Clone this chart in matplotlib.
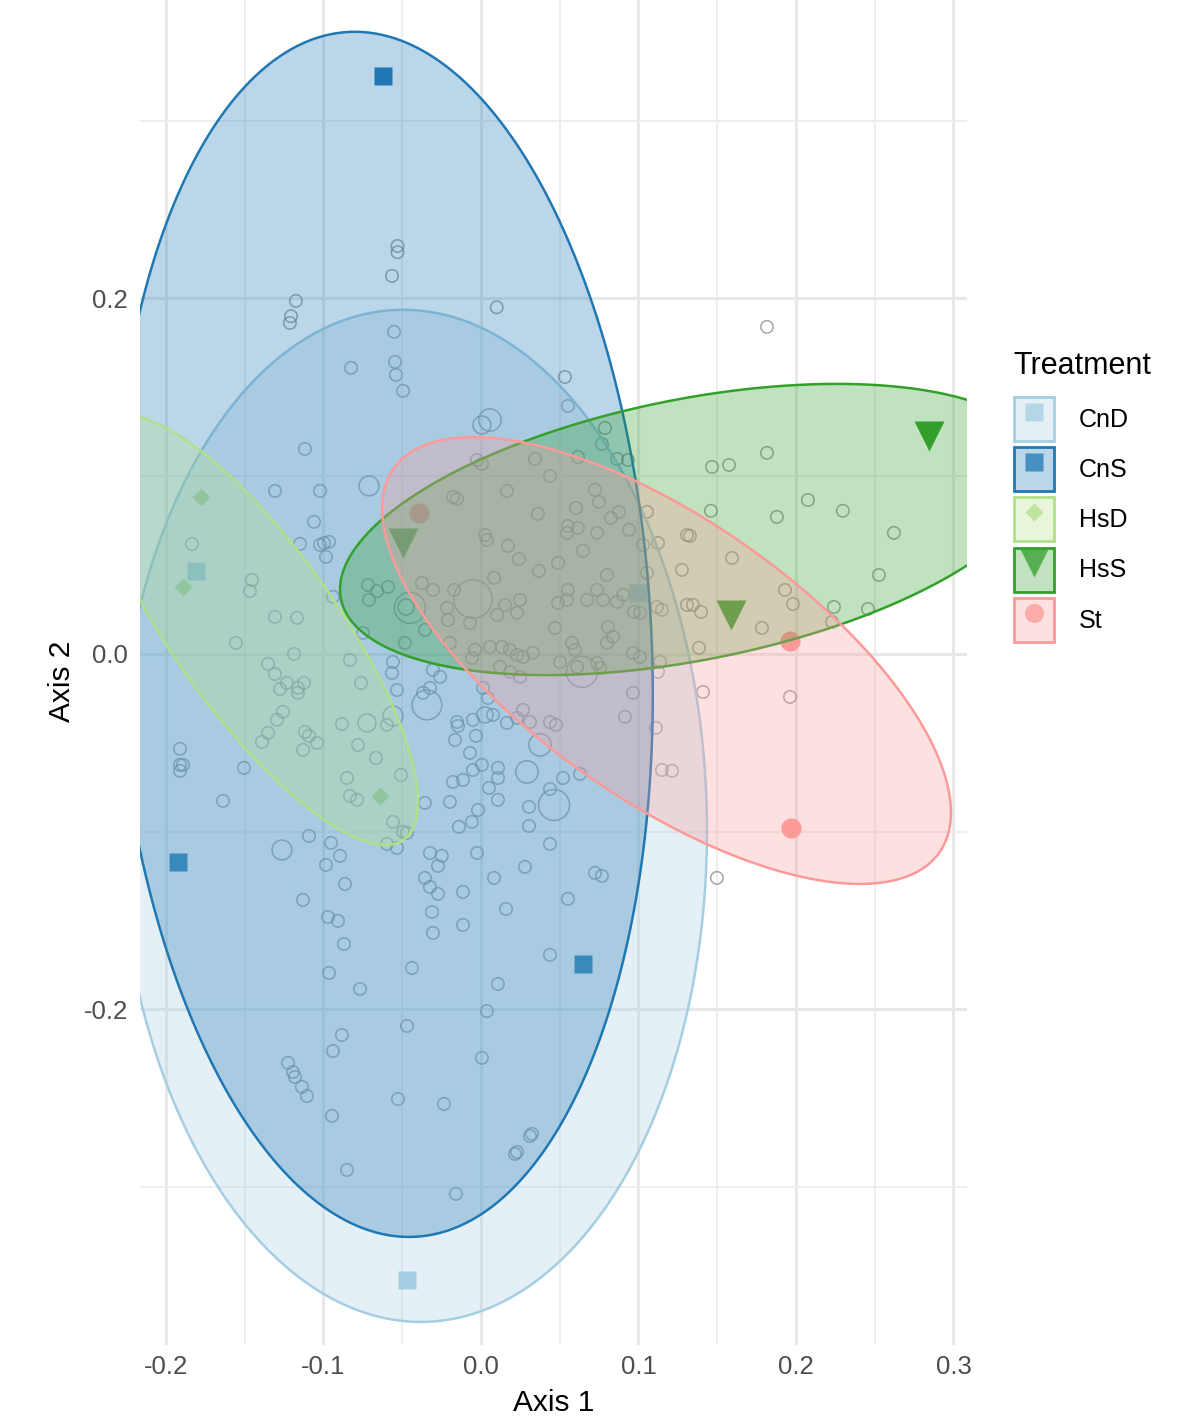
import numpy as np
import matplotlib
matplotlib.use("Agg")
import matplotlib.pyplot as plt
from matplotlib.patches import Patch
from matplotlib.lines import Line2D
from matplotlib.legend_handler import HandlerTuple

plt.rcParams['font.family'] = ['Liberation Sans', 'DejaVu Sans']

# ---------------- data ----------------
groups = ["CnD", "CnS", "HsD", "HsS", "St"]
colors = ["#a6cee3", "#1f78b4", "#b2df8a", "#33a02c", "#fb9a99"]
markers = ["s", "s", "D", "v", "o"]

# sample scores (Axis 1, Axis 2)
samp_x = {
    "CnD": [-0.181, -0.047, 0.0997],
    "CnS": [-0.0622, -0.1924, 0.0648],
    "HsD": [-0.1778, -0.1892, -0.0641],
    "HsS": [0.2845, -0.0495, 0.1587],
    "St":  [-0.0394, 0.1962, 0.1968],
}
samp_y = {
    "CnD": [0.0467, -0.3522, 0.0343],
    "CnS": [0.3252, -0.117, -0.1744],
    "HsD": [0.0883, 0.0377, -0.0799],
    "HsS": [0.1226, 0.0624, 0.0219],
    "St":  [0.0793, 0.0073, -0.0979],
}

# ellipse statistics per group: centre, half-extent in x / y, correlation
ell_cx = [-0.0438, -0.0629, -0.1435, 0.1340, 0.1178]
ell_cy = [-0.0911, 0.0110, 0.0135, 0.0700, -0.0037]
ell_sx = [0.1873, 0.1720, 0.1035, 0.2235, 0.1806]
ell_sy = [0.2847, 0.3390, 0.1210, 0.0819, 0.1257]
ell_r = [-0.03, -0.10, -0.80, 0.412, -0.68]

# taxa scores
taxa_x = [
    0.010, -0.053, -0.053, -0.0565, -0.1175, -0.1206, -0.1213, -0.0552, -0.0825, -0.0546,
    -0.054, -0.0495, -0.1118, -0.1308, -0.1022, -0.0711, 0.1816, 0.0533, 0.0552, 0.0006,
    0.0057, 0.0787, 0.0768, 0.0864, 0.0933, 0.0616, 0.0343, 0.0438, -0.0025, 0.0006,
    0.0165, -0.0178, -0.0152, 0.0362, 0.0603, 0.0724, 0.0749, 0.0825, 0.0876, 0.0552,
    0.0616, 0.0546, 0.0737, 0.094, 0.0025, 0.0038, 0.0171, 0.0648, 0.0241, 0.0489,
    0.0368, 0.08, 0.0083, -0.0051, -0.0171, -0.0305, -0.0375, 0.0552, 0.0546, 0.0489,
    0.0673, 0.0737, 0.0775, 0.0902, 0.0864, 0.0248, 0.0229, 0.0152, 0.0102, -0.007,
    -0.0216, -0.021, -0.0356, 0.0806, 0.0838, 0.0971, 0.101, 0.1118, 0.1149, 0.1054,
    0.1124, 0.1054, 0.1276, 0.1308, 0.1308, 0.047, 0.0578, 0.0597, 0.08, 0.0057,
    0.0133, 0.0184, 0.0229, 0.0267, 0.033, 0.0641, 0.061, 0.0737, 0.0756, 0.0502,
    -0.0038, -0.0057, -0.0197, 0.0121, 0.0184, 0.0248, 0.0013, -0.026, -0.0305, -0.0368,
    -0.0324, 0.0965, 0.0965, 0.101, 0.1124, 0.1137, 0.1029,
    -0.106, -0.1149, -0.1022, -0.0997, -0.0965, -0.0984, -0.1835, -0.1454, -0.1467, -0.094,
    -0.0717, -0.066, -0.059, -0.0711, -0.0451, -0.0476, -0.1308, -0.1168, -0.1556, -0.1187,
    -0.1352, -0.1308, -0.1232, -0.1124, -0.1162, -0.1162, -0.1276, -0.0832, -0.0762, -0.0559,
    -0.0565, -0.0533, -0.0483, -0.0749,
    -0.1911, -0.1911, -0.1892, -0.1911, -0.1505, -0.1638, -0.139, -0.1352, -0.1295, -0.1257,
    -0.1118, -0.1092, -0.1041, -0.113, -0.0883, -0.0781, -0.0724, -0.0597, -0.0559, -0.0667,
    -0.0851, -0.0832, -0.0787, -0.0508, -0.0559, -0.0495, -0.047, -0.0597, -0.0533, -0.1092,
    -0.1264, -0.0952, -0.0895, -0.0984, -0.0864, -0.113, -0.0971, -0.0908, -0.087, -0.0965,
    -0.0768, -0.0438, -0.047,
    -0.0343, 0.0044, -0.0152, -0.0146, -0.0051, 0.0025, 0.0076, 0.0165, 0.0229, 0.0267,
    0.0311, 0.0438, 0.0476, -0.0165, -0.0032, 0.0375, -0.007, -0.0051, 0.0006, 0.0108,
    0.0108, 0.0051, -0.0178, -0.0114, 0.0108, 0.0292, 0.0521, 0.0629, 0.0438, 0.0464,
    -0.0197, -0.0356, -0.0019, -0.0057, -0.014, 0.0305, 0.0305, 0.0438, -0.0025, -0.0324,
    -0.0248, -0.0273, 0.0279, -0.0356, -0.0324, -0.0273, -0.0114, 0.0083, 0.0724, 0.0768,
    0.0552, -0.0311, 0.0159, -0.0114, -0.0305, 0.0438, 0.0108, 0.0038, 0.1111, 0.0914,
    0.1149, 0.1213,
    0.1816, 0.1467, 0.1575, 0.146, 0.2076, 0.2298, 0.1879, 0.2622, 0.1327, 0.1594,
    0.2527, 0.193, 0.1981, 0.2241, 0.2457, 0.2229,
    0.1346, 0.1397, 0.1784, 0.1384, 0.141, 0.1962, 0.1498,
    -0.0883, -0.094, -0.1225, -0.1194, -0.1181, -0.1137, -0.1105, -0.0527, -0.0946, -0.0851,
    0.0006, -0.0235, 0.0311, 0.0324, 0.0216, 0.0229, -0.0159,
]
taxa_y = [
    0.195, 0.2295, 0.226, 0.2127, 0.1986, 0.190, 0.1862, 0.1812, 0.1609, 0.1643,
    0.157, 0.148, 0.1153, 0.0917, 0.0917, 0.0945, 0.184, 0.1558, 0.1395, 0.1288,
    0.1316, 0.1271, 0.1181, 0.1097, 0.1091, 0.1108, 0.1097, 0.1001, 0.1091, 0.1069,
    0.0917, 0.0883, 0.0872, 0.0788, 0.0821, 0.0923, 0.0855, 0.0765, 0.0799, 0.072,
    0.0709, 0.0681, 0.0681, 0.0698, 0.0669, 0.0641, 0.0608, 0.058, 0.0534, 0.0512,
    0.0467, 0.0444, 0.0428, 0.0309, 0.036, 0.036, 0.0399, 0.036, 0.0304, 0.0287,
    0.0304, 0.036, 0.0304, 0.0332, 0.0293, 0.0304, 0.0231, 0.0276, 0.0219, 0.0174,
    0.0259, 0.0191, 0.0135, 0.0152, 0.0096, 0.0236, 0.0231, 0.0264, 0.0248, 0.0456,
    0.0624, 0.0799, 0.0473, 0.0669, 0.0276, 0.0146, 0.0062, 0.0023, 0.0062, 0.0039,
    0.0039, 0.0023, -0.0006, -0.0017, 0.0006, -0.0101, -0.0073, -0.0051, -0.0079, -0.0045,
    0.0023, -0.0023, 0.0062, -0.0073, -0.0101, -0.0129, -0.0191, -0.0129, -0.009, -0.0219,
    -0.0191, -0.0219, 0.0006, -0.0017, -0.0101, -0.0045, 0.0613,
    0.0743, 0.0619, 0.0613, 0.0624, 0.063, 0.0546, 0.0619, 0.0416, 0.0354, 0.0321,
    0.0388, 0.0354, 0.0377, 0.0304, 0.0259, 0.0264, 0.0208, 0.0203, 0.0062, 0.0,
    -0.0056, -0.0113, -0.0163, -0.0163, -0.0191, -0.0219, -0.0197, -0.0034, -0.0163, -0.0045,
    -0.0107, -0.0203, 0.0062, 0.0118,
    -0.0534, -0.0624, -0.0624, -0.0658, -0.0641, -0.0827, -0.0495, -0.0444, -0.0371, -0.0326,
    -0.0439, -0.0461, -0.0501, -0.054, -0.0394, -0.0512, -0.0388, -0.0399, -0.0349, -0.0585,
    -0.0698, -0.0799, -0.0821, -0.0681, -0.0945, -0.1001, -0.1007, -0.1069, -0.1091, -0.1024,
    -0.1103, -0.1063, -0.1136, -0.1187, -0.1294, -0.1384, -0.148, -0.1502, -0.1632, -0.1795,
    -0.1885, -0.1767, -0.2093,
    -0.0287, -0.0248, -0.0383, -0.0405, -0.0371, -0.0343, -0.0343, -0.0388, -0.036, -0.0315,
    -0.0383, -0.0383, -0.0399, -0.0484, -0.0461, -0.0512, -0.0557, -0.0653, -0.0624, -0.0641,
    -0.0698, -0.0754, -0.072, -0.0709, -0.0821, -0.0664, -0.0698, -0.0675, -0.076, -0.085,
    -0.0833, -0.0838, -0.0878, -0.0945, -0.0973, -0.0861, -0.0968, -0.1069, -0.112, -0.112,
    -0.1136, -0.1193, -0.1198, -0.126, -0.1311, -0.135, -0.1339, -0.126, -0.1232, -0.1249,
    -0.1378, -0.1452, -0.1435, -0.1525, -0.157, -0.1693, -0.1857, -0.2009, -0.0416, -0.0354,
    -0.0653, -0.0658,
    0.1131, 0.1052, 0.1063, 0.0805, 0.0866, 0.0805, 0.0771, 0.0681, 0.0664, 0.054,
    0.0444, 0.036, 0.0281, 0.0264, 0.0253, 0.018,
    0.0276, 0.0236, 0.0146, 0.0034, -0.0214, -0.0242, -0.126,
    -0.2144, -0.2234, -0.2301, -0.2352, -0.238, -0.2436, -0.2487, -0.2504, -0.2599, -0.2903,
    -0.2273, -0.2532, -0.2712, -0.27, -0.2813, -0.2802, -0.3038,
]
taxa_size = [
    1, 1, 1, 1, 1, 1, 1, 1, 1, 1,
    1, 1, 1, 1, 1, 1.6, 1, 1, 1, 1.45,
    1.8, 1, 1, 1, 1, 1, 1, 1, 1, 1,
    1, 1, 1, 1, 1, 1, 1, 1, 1, 1,
    1, 1, 1, 1, 1, 1, 1, 1, 1, 1,
    1, 1, 1, 3.1, 1, 1, 1, 1, 1, 1,
    1, 1, 1, 1, 1, 1, 1, 1, 1, 1,
    1, 1, 1, 1, 1, 1, 1, 1, 1, 1,
    1, 1, 1, 1, 1, 1, 1, 1, 1, 1,
    1, 1, 1, 1, 1, 2.5, 1, 1, 1, 1,
    1, 1, 1, 1, 1, 1, 1, 1, 1, 1,
    1, 1, 1, 1, 1, 1, 1,
    1, 1, 1, 1, 1, 1, 1, 1, 1, 1,
    1, 1, 1, 1, 2.5, 1.3, 1, 1, 1, 1,
    1, 1, 1, 1, 1, 1, 1, 1, 1, 1,
    1, 1, 1, 1,
    1, 1, 1, 1, 1, 1, 1, 1, 1, 1,
    1, 1, 1, 1, 1, 1, 1.45, 1, 1.6, 1,
    1, 1, 1, 1, 1, 1, 1, 1, 1, 1,
    1.6, 1, 1, 1, 1, 1, 1, 1, 1, 1,
    1, 1, 1,
    2.4, 1, 1, 1, 1, 1.3, 1, 1, 1, 1,
    1, 1, 1, 1, 1, 1.8, 1, 1, 1, 1,
    1, 1, 1, 1, 1, 1.8, 1, 1, 1, 2.5,
    1, 1, 1, 1, 1, 1, 1, 1, 1, 1,
    1, 1, 1, 1, 1, 1, 1, 1, 1, 1,
    1, 1, 1, 1, 1, 1, 1, 1, 1, 1,
    1, 1,
    1, 1, 1, 1, 1, 1, 1, 1, 1, 1,
    1, 1, 1, 1, 1, 1,
    1, 1, 1, 1, 1, 1, 1,
    1, 1, 1, 1, 1, 1, 1, 1, 1, 1,
    1, 1, 1, 1, 1, 1, 1,
]
n = min(len(taxa_x), len(taxa_y), len(taxa_size))

x_major = [-0.2, -0.1, 0.0, 0.1, 0.2, 0.3]
x_minor = [-0.15, -0.05, 0.05, 0.15, 0.25]
y_major = [-0.2, 0.0, 0.2]
y_minor = [-0.3, -0.1, 0.1, 0.3]

# ---------------- figure ----------------
W, H = 1191, 1417
fig = plt.figure(figsize=(W / 100, H / 100), dpi=100)
ax = fig.add_axes([140 / W, 1 - 1345 / H, 827 / W, 1350 / H])
ax.set_xlim(-0.2165, 0.3086)
ax.set_ylim(-0.3888, 0.3707)
for s in ax.spines.values():
    s.set_visible(False)

ax.set_xticks(x_major)
ax.set_xticklabels(["%.1f" % v for v in x_major])
ax.set_yticks(y_major)
ax.set_yticklabels(["%.1f" % v for v in y_major])
ax.set_xticks(x_minor, minor=True)
ax.set_yticks(y_minor, minor=True)
ax.tick_params(which="both", length=0)
ax.tick_params(axis="x", labelsize=18.5, labelcolor="#4d4d4d", pad=7)
ax.tick_params(axis="y", labelsize=18.5, labelcolor="#4d4d4d", pad=8.5)
ax.grid(which="major", color="#e8e8e8", lw=2.2, zorder=0)
ax.grid(which="minor", color="#ededed", lw=1.3, zorder=0)
ax.set_axisbelow(True)

# taxa points
base = (2 * 6.2 * 0.72) ** 2
ax.scatter(taxa_x[:n], taxa_y[:n], s=[base * v * v for v in taxa_size[:n]],
           facecolors="none", edgecolors="#858585", linewidths=1.15,
           alpha=0.7, zorder=2)

# sample points
msizes = {"s": 13, "D": 9.5, "v": 21, "o": 14.5}
for g, c, m in zip(groups, colors, markers):
    ax.plot(samp_x[g], samp_y[g], ls="none", marker=m, ms=msizes[m],
            color=c, mec="none", zorder=3)

# ellipses
t = np.linspace(0, 2 * np.pi, 400)
for i, (g, c) in enumerate(zip(groups, colors)):
    r = ell_r[i]
    ex = ell_cx[i] + ell_sx[i] * np.cos(t)
    ey = ell_cy[i] + ell_sy[i] * (r * np.cos(t) + np.sqrt(1 - r * r) * np.sin(t))
    rgb = matplotlib.colors.to_rgb(c)
    ax.fill(ex, ey, facecolor=(*rgb, 0.3), edgecolor=c, lw=1.8, zorder=4 + i)

# axis titles
fig.text(553.5 / W, 1 - 1403 / H, "Axis 1", ha="center", va="center", fontsize=21.5)
fig.text(62 / W, 1 - 681 / H, "Axis 2", ha="center", va="center", fontsize=21.5,
         rotation=90)

# legend
fig.text(1013 / W, 1 - 366 / H, "Treatment", ha="left", va="center", fontsize=22)
handles = []
for g, c, m in zip(groups, colors, markers):
    rgb = matplotlib.colors.to_rgb(c)
    p = Patch(facecolor=(*rgb, 0.3), edgecolor=c, lw=2.0)
    ln = Line2D([], [], ls="none", marker=m, ms=msizes[m] * 0.95, color=c,
                mec="none", alpha=0.75)
    handles.append((p, ln))
leg = fig.legend(handles, groups, handler_map={tuple: HandlerTuple(ndivide=1)},
                 loc="upper left", bbox_to_anchor=(1014 / W, 1 - 397 / H),
                 frameon=False, fontsize=18,
                 handlelength=1.6, handleheight=2.33, labelspacing=0.25,
                 handletextpad=1.0, borderpad=0, borderaxespad=0)

fig.savefig("out.png", dpi=100)
